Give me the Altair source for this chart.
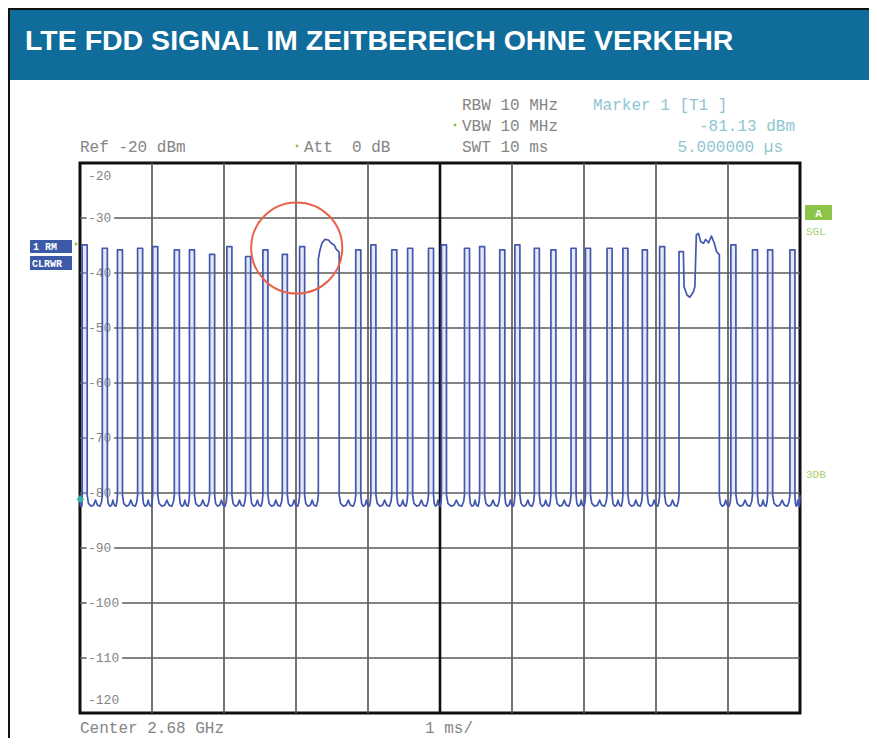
import altair as alt
import pandas as pd

# ---------------- data ----------------
TITLE = "LTE FDD SIGNAL IM ZEITBEREICH OHNE VERKEHR"

# grid: 10 divisions of 1 ms, 10 dB per division, ref -20 dBm
x_grid = [1, 2, 3, 4, 6, 7, 8, 9]
x_center = [5]
y_grid = [-30, -40, -50, -60, -70, -80, -90, -100, -110]
y_label_text = ["-20", "-30", "-40", "-50", "-60", "-70", "-80", "-90", "-100", "-110", "-120"]
y_label_pos = [-22.4, -30, -40, -50, -60, -70, -80, -90, -100, -110, -117.6]

# pulses (reference-signal OFDM symbols): rising edge [ms], width [ms], top [dBm]
pulse_start = [0.03, 0.31, 0.52, 0.80, 1.01, 1.31, 1.52, 1.80, 2.04, 2.30, 2.54, 2.81, 3.05,
               3.83, 4.04, 4.33, 4.55, 4.84, 5.02, 5.34, 5.55, 5.83, 6.04, 6.31, 6.54, 6.82,
               7.02, 7.32, 7.54, 7.81, 8.05,
               9.04, 9.34, 9.55, 9.86]
pulse_width = [0.07] * 35
pulse_top = [-34.9, -35.5, -35.8, -35.5, -35.2, -35.8, -35.8, -36.6, -35.2, -37.0, -35.8, -36.6, -35.2,
             -35.8, -34.9, -35.8, -35.5, -35.5, -34.9, -35.5, -35.2, -35.8, -34.9, -35.5, -35.8, -35.5,
             -35.5, -35.5, -35.5, -35.8, -35.2,
             -34.9, -35.8, -35.8, -35.8]

# broader bursts (circled one and the one near 8.5 ms)
hump1_t = [3.31, 3.31, 3.33, 3.36, 3.40, 3.45, 3.49, 3.53, 3.56, 3.60, 3.60]
hump1_db = [-80.4, -37.5, -36.0, -34.6, -33.9, -34.0, -34.6, -34.9, -35.7, -36.2, -80.4]
hump2_t = [8.32, 8.32, 8.38, 8.39, 8.43, 8.47, 8.52, 8.54, 8.56, 8.59, 8.62, 8.66, 8.69, 8.73,
           8.77, 8.81, 8.84, 8.88, 8.88]
hump2_db = [-80.4, -36.1, -36.1, -42.5, -44.0, -44.4, -43.4, -42.5, -33.1, -32.8, -34.3, -34.6,
            -33.9, -34.5, -33.3, -34.6, -36.1, -36.7, -80.4]

# noise floor between bursts (typical ripple, fraction of the gap -> dBm)
floor_frac = [0.08, 0.25, 0.42, 0.55, 0.68, 0.85, 0.95]
floor_db = [-81.9, -82.4, -82.2, -81.3, -82.2, -82.4, -81.6]
floor_base = -80.4
sweep_end = 10.0

marker_t = [0.005]
marker_db = [-81.13]

circle_t = [3.01]
circle_db = [-35.45]

# ---------------- build trace ----------------
segments = []
for s, w, top in zip(pulse_start, pulse_width, pulse_top):
    segments.append([(s, floor_base), (s, top), (s + w, top), (s + w, floor_base)])
segments.append(list(zip(hump1_t, hump1_db)))
segments.append(list(zip(hump2_t, hump2_db)))
segments.sort(key=lambda seg: seg[0][0])

pts = [(0.0, floor_base)]
prev_end = 0.0
for seg in segments:
    gap = seg[0][0] - prev_end
    for f, d in zip(floor_frac, floor_db):
        pts.append((prev_end + f * gap, d))
    pts.extend(seg)
    prev_end = seg[-1][0]
gap = sweep_end - prev_end
for f, d in zip(floor_frac, floor_db):
    pts.append((prev_end + f * gap, d))
pts.append((sweep_end, floor_base))

trace = pd.DataFrame({"i": range(len(pts)), "t": [p[0] for p in pts], "db": [p[1] for p in pts]})
pulses = pd.DataFrame({"s": pulse_start,
                       "e": [s + w for s, w in zip(pulse_start, pulse_width)],
                       "top": pulse_top})

# ---------------- chart ----------------
W, H = 720, 550
xs = alt.Scale(domain=[0, 10], nice=False, zero=False)
ys = alt.Scale(domain=[-120, -20], nice=False, zero=False)
MONO = "Liberation Mono"
GREY = "#858585"
TEAL = "#8ec6d2"
one = pd.DataFrame({"k": [0]})

def T(s, x, y, size=16, color=GREY, align="left", font=MONO, weight="normal"):
    return alt.Chart(one).mark_text(text=s, fontSize=size, color=color, align=align,
                                    baseline="alphabetic", font=font, fontWeight=weight).encode(
        x=alt.value(x), y=alt.value(y))

def R(x1, x2, y1, y2, fill):
    return alt.Chart(one).mark_rect(fill=fill).encode(
        x=alt.value(x1), x2=alt.value(x2), y=alt.value(y1), y2=alt.value(y2))

def dot(x, y, color):
    return alt.Chart(one).mark_point(shape="circle", filled=True, color=color, size=8,
                                     opacity=1).encode(x=alt.value(x), y=alt.value(y))

layers = []
# page frame and title band
layers.append(R(-72, 789, -155, -153, "#111111"))
layers.append(R(-72, -70, -155, 575, "#111111"))
layers.append(R(-70, 789, -153, -83, "#0f6c9b"))
layers.append(T(TITLE, -55, -113, size=28.5, color="white",
                font="Liberation Sans, Arial", weight="bold"))

# grid
layers.append(alt.Chart(pd.DataFrame({"t": x_grid})).mark_rule(color="#5a5a5a", strokeWidth=1.7)
              .encode(x=alt.X("t:Q", scale=xs, axis=None)))
layers.append(alt.Chart(pd.DataFrame({"v": y_grid})).mark_rule(color="#5a5a5a", strokeWidth=1.7)
              .encode(y=alt.Y("v:Q", scale=ys, axis=None)))
layers.append(alt.Chart(pd.DataFrame({"t": x_center})).mark_rule(color="#111111", strokeWidth=2.6)
              .encode(x=alt.X("t:Q", scale=xs, axis=None)))

# y labels with white halo
ylab = pd.DataFrame({"lab": y_label_text, "v": y_label_pos})
layers.append(alt.Chart(ylab).mark_text(align="left", baseline="middle", font=MONO, fontSize=13,
                                        color="white", stroke="white", strokeWidth=7)
              .encode(x=alt.value(8), y=alt.Y("v:Q", scale=ys, axis=None), text="lab:N"))
layers.append(alt.Chart(ylab).mark_text(align="left", baseline="middle", font=MONO, fontSize=13,
                                        color=GREY)
              .encode(x=alt.value(8), y=alt.Y("v:Q", scale=ys, axis=None), text="lab:N"))

# pulse fill + trace
layers.append(alt.Chart(pulses).mark_rect(color="#a8b4e0", opacity=0.3)
              .encode(x=alt.X("s:Q", scale=xs, axis=None), x2="e:Q",
                      y=alt.Y("top:Q", scale=ys, axis=None), y2=alt.datum(floor_base)))
layers.append(alt.Chart(trace).mark_line(color="#4358ad", strokeWidth=1.7, strokeJoin="round")
              .encode(x=alt.X("t:Q", scale=xs, axis=None), y=alt.Y("db:Q", scale=ys, axis=None),
                      order="i:Q"))

# marker and red circle
layers.append(alt.Chart(pd.DataFrame({"t": marker_t, "db": marker_db}))
              .mark_point(shape="diamond", filled=True, color="#35b3a5", size=60, opacity=1)
              .encode(x=alt.X("t:Q", scale=xs, axis=None), y=alt.Y("db:Q", scale=ys, axis=None)))
layers.append(alt.Chart(pd.DataFrame({"t": circle_t, "db": circle_db}))
              .mark_point(shape="circle", filled=False, color="#e8634a", size=8300, strokeWidth=2,
                          opacity=1)
              .encode(x=alt.X("t:Q", scale=xs, axis=None), y=alt.Y("db:Q", scale=ys, axis=None)))

# instrument header texts
layers.append(T("Ref -20 dBm", 0, -11))
layers.append(T("Att\u00a0\u00a00 dB", 224, -11))
layers.append(T("RBW 10 MHz", 382, -53))
layers.append(T("VBW 10 MHz", 382, -32))
layers.append(T("SWT 10 ms", 382, -11))
layers.append(T("Marker 1 [T1 ]", 513, -53, color=TEAL))
layers.append(T("-81.13 dBm", 715, -32, color=TEAL, align="right"))
layers.append(T("5.000000 \u00b5s", 703, -11, color=TEAL, align="right"))
layers.append(T("Center 2.68 GHz", 0, 570))
layers.append(T("1 ms/", 345, 570))
layers.append(dot(217, -17, "#8cc34a"))
layers.append(dot(375, -38, "#8cc34a"))
layers.append(dot(-4, 81, "#8cc34a"))

# left trace boxes
layers.append(R(-50, -8, 77, 90, "#3d5aa8"))
layers.append(R(-50, -8, 93, 107, "#3d5aa8"))
layers.append(T("1 RM", -47, 87, size=10, color="white", weight="bold"))
layers.append(T("CLRWR", -48, 104, size=10, color="white", weight="bold"))

# right indicators
layers.append(R(725, 752, 42, 57, "#8cc34a"))
layers.append(T("A", 738.5, 54, size=11, color="white", align="center", weight="bold"))
layers.append(T("SGL", 726, 72, size=11, color="#a5cf6a"))
layers.append(T("3DB", 726, 315, size=11, color="#a5cf6a"))

chart = alt.layer(*layers).properties(
    width=W, height=H,
    background="white",
    autosize=alt.AutoSizeParams(type="none"),
    padding={"left": 72, "top": 155, "right": 69, "bottom": 30},
).configure_view(stroke="#111111", strokeWidth=3)

chart.save("out.html", embed_options={"renderer": "svg", "actions": False})
